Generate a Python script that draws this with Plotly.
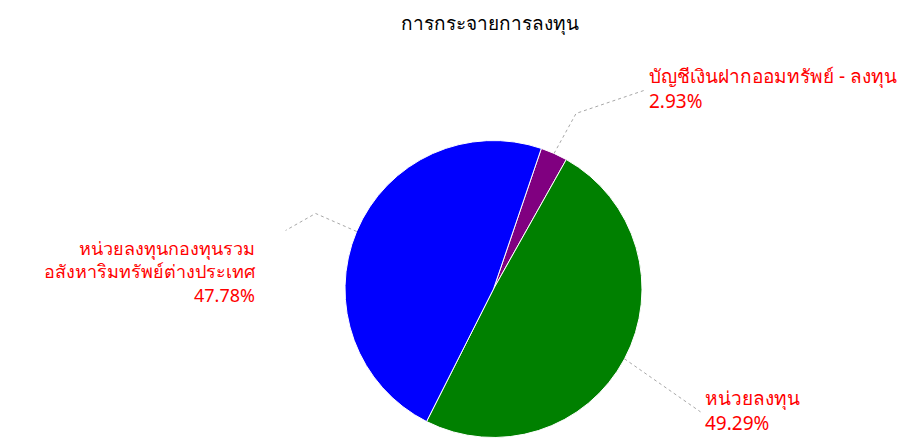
import math
import plotly.graph_objects as go

title_text = "การกระจายการลงทุน"
labels = ["บัญชีเงินฝากออมทรัพย์ - ลงทุน", "หน่วยลงทุน",
          "หน่วยลงทุนกองทุนรวม<br>อสังหาริมทรัพย์ต่างประเทศ"]
values = [2.93, 49.29, 47.78]
colors = ["#800080", "#008000", "#0000ff"]

WIN_W, WIN_H = 908, 444
OFF = 8  # default page body margin
W, H = WIN_W - OFF, WIN_H - OFF
CX, CY, R = 493.5, 289, 148.5
START = 18.8  # degrees clockwise from 12 o'clock

FONT = "Tahoma, 'Noto Sans', 'DejaVu Sans', sans-serif"


def px(x, y):
    """window pixel -> paper coordinates"""
    return (x - OFF) / W, 1 - (y - OFF) / H


x0, y1 = px(CX - R, CY - R)
x1, y0 = px(CX + R, CY + R)

fig = go.Figure(go.Pie(
    labels=[l.replace("<br>", " ") for l in labels],
    values=values,
    sort=False,
    direction="clockwise",
    rotation=START,
    marker=dict(colors=colors, line=dict(color="white", width=1)),
    textinfo="none",
    hoverinfo="label+percent",
    showlegend=False,
    domain=dict(x=[x0, x1], y=[y0, min(y1, 1)]),
))

# leader line geometry (bends given as pixel offsets from the slice edge)
bends = [
    [(22, -40), (90, -63)],
    [(76, 53)],
    [(-41, -18), (-71, -1)],
]
label_pos = [(647, 89, "left", 19), (703, 410, "left", 19), (258, 271, "right", 18)]

total = sum(values)
acc = 0.0
shapes = []
annotations = []
for i, v in enumerate(values):
    mid = START + 360 * (acc + v / 2) / total
    acc += v
    a = math.radians(mid)
    sx = CX + R * math.sin(a)
    sy = CY - R * math.cos(a)
    pts = [(sx, sy)] + [(sx + dx, sy + dy) for dx, dy in bends[i]]
    path = ""
    for j, (x, y) in enumerate(pts):
        X, Y = px(x, y)
        path += ("M" if j == 0 else " L") + f" {X} {Y}"
    shapes.append(dict(type="path", path=path, xref="paper", yref="paper",
                       line=dict(color="#a8a8a8", width=1, dash="dot")))
    pct = 100 * v / total
    lx, ly, al, fs = label_pos[i]
    X, Y = px(lx, ly)
    annotations.append(dict(
        text=f"{labels[i]}<br>{pct:.2f}%", x=X, y=Y, xref="paper", yref="paper",
        xanchor=al, yanchor="middle", align=al, showarrow=False,
        font=dict(family=FONT, size=fs, color="#ff0000"),
    ))

# title as an annotation so it stays fully inside the page
tx, ty = px(490, 23)
annotations.append(dict(
    text=title_text, x=tx, y=ty, xref="paper", yref="paper",
    xanchor="center", yanchor="middle", showarrow=False,
    font=dict(family=FONT, size=19, color="black"),
))

fig.update_layout(
    width=W, height=H,
    margin=dict(l=0, r=0, t=0, b=0),
    paper_bgcolor="white", plot_bgcolor="white",
    shapes=shapes,
    annotations=annotations,
)

fig.write_html("out.html")
